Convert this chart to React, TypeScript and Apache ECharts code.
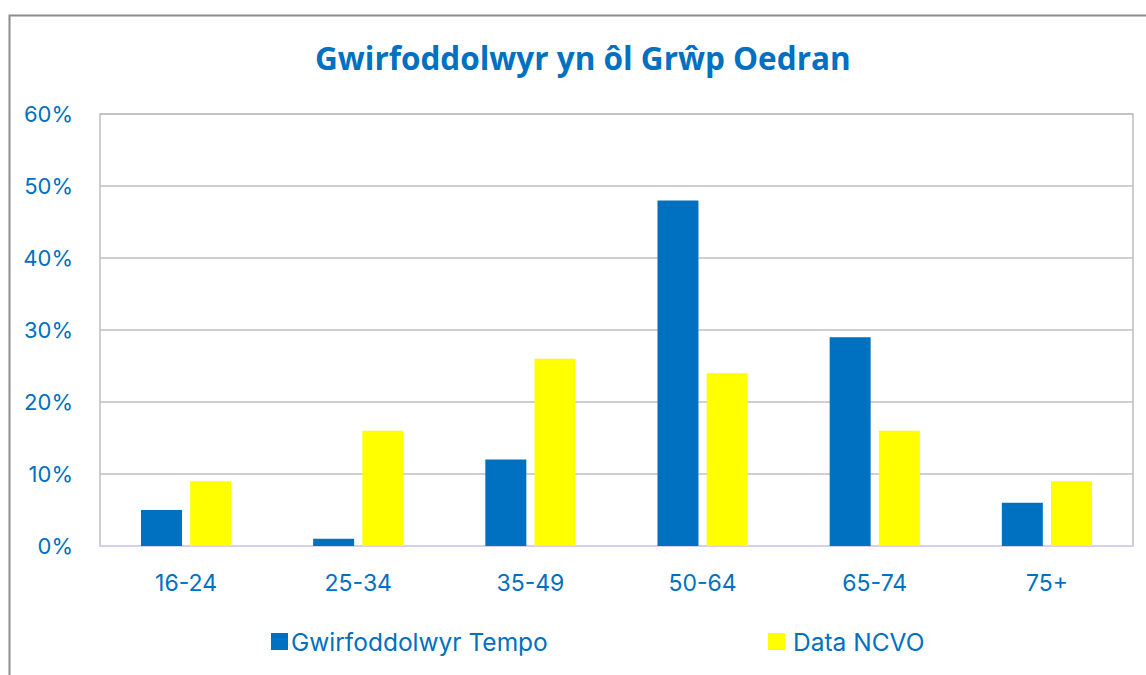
import React, { useEffect, useRef } from "react";
import * as echarts from "echarts";

const categories = ["16-24", "25-34", "35-49", "50-64", "65-74", "75+"];
const tempo = [5, 1, 12, 48, 29, 6];
const ncvo = [9, 16, 26, 24, 16, 9];
const seriesNames = ["Gwirfoddolwyr Tempo", "Data NCVO"];
const title = "Gwirfoddolwyr yn ôl Grŵp Oedran";

export default function App() {
  const ref = useRef<HTMLDivElement>(null);
  useEffect(() => {
    if (!ref.current) return;
    const chart = echarts.init(ref.current, undefined, { renderer: "svg" });
    const blue = "#0070C0";
    const font = "Inter, sans-serif";
    const legendBase = {
      top: 624,
      itemWidth: 17,
      itemHeight: 17,
      icon: "rect",
      textStyle: { color: blue, fontFamily: font, fontSize: 24.5, padding: [0, 0, 0, -2] },
    };
    chart.setOption({
      animation: false,
      backgroundColor: "#ffffff",
      title: {
        text: title,
        left: 310,
        top: 36,
        textStyle: { color: blue, fontFamily: "'Open Sans', sans-serif", fontWeight: "bold", fontSize: 31.5 },
      },
      legend: [
        { ...legendBase, left: 266, data: [seriesNames[0]] },
        { ...legendBase, left: 763, textStyle: { ...legendBase.textStyle, padding: [0, 0, 0, 3] }, data: [seriesNames[1]] },
      ],
      grid: {
        left: 100,
        right: 13,
        top: 114,
        bottom: 129,
        show: true,
        borderColor: "#BFBFBF",
        borderWidth: 1.5,
        containLabel: false,
      },
      xAxis: {
        type: "category",
        data: categories,
        axisTick: { show: false },
        axisLine: { lineStyle: { color: "#D4D0EC", width: 2 } },
        axisLabel: { color: blue, fontFamily: font, fontSize: 23, margin: 25 },
      },
      yAxis: {
        type: "value",
        min: 0,
        max: 60,
        interval: 10,
        axisLine: { show: false },
        axisTick: { show: false },
        splitLine: { lineStyle: { color: "#BFBFBF", width: 1.5 } },
        axisLabel: {
          color: blue,
          fontFamily: font,
          fontSize: 22,
          margin: 27,
          formatter: (v: number) => v + "%",
        },
      },
      series: [
        {
          name: seriesNames[0],
          type: "bar",
          data: tempo,
          barWidth: 41,
          barGap: "20%",
          itemStyle: { color: blue },
        },
        {
          name: seriesNames[1],
          type: "bar",
          data: ncvo,
          barWidth: 41,
          barGap: "20%",
          itemStyle: { color: "#FFFF00" },
        },
      ],
      graphic: [
        {
          type: "rect",
          left: 7,
          top: 13,
          shape: { width: 1200, height: 700 },
          style: { fill: "none", stroke: "#8C8C8C", lineWidth: 2 },
          silent: true,
        },
      ],
    });
    return () => chart.dispose();
  }, []);
  return (
    <div
      ref={ref}
      style={{ position: "absolute", left: 0, top: 0, width: 1146, height: 675 }}
    />
  );
}
